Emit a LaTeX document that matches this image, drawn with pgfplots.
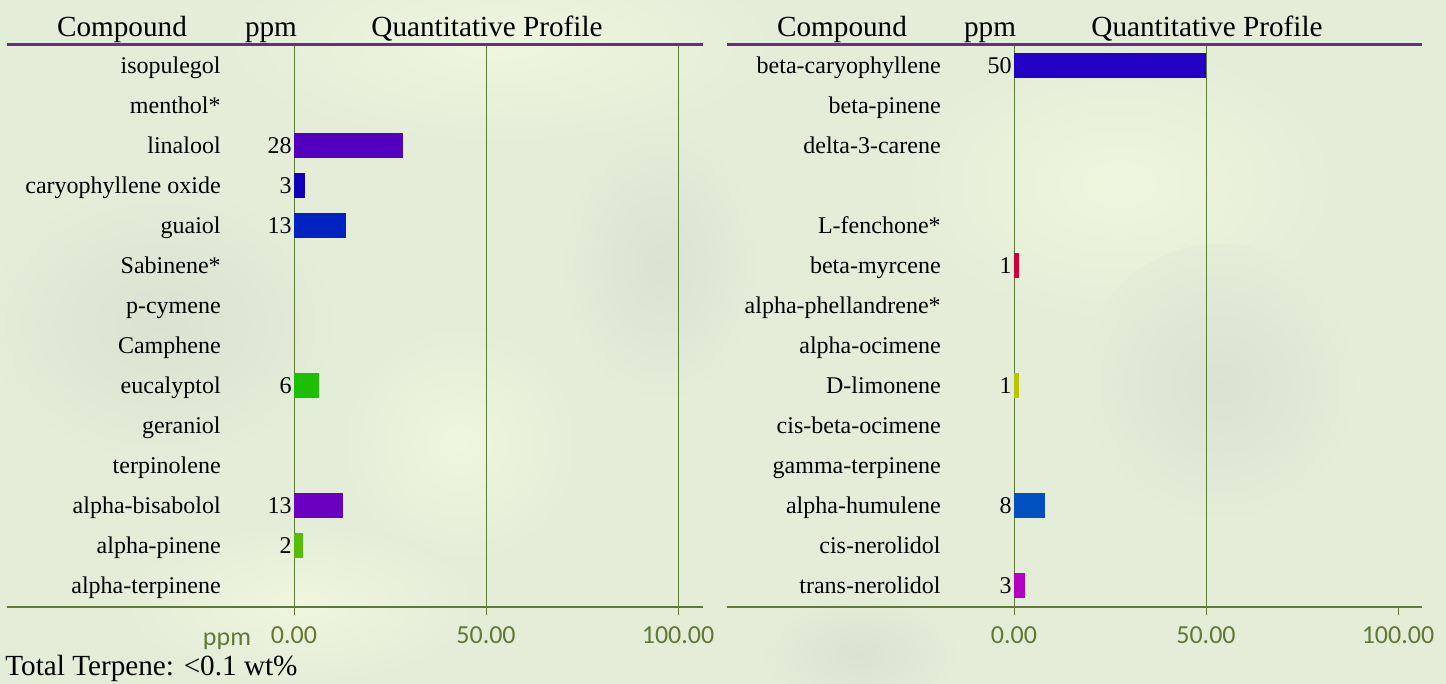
\documentclass[border=0pt]{standalone}
\usepackage{fontspec}
\setmainfont{Liberation Serif}
\newfontfamily\tickfont{Carlito}
\usepackage{pgfplots}
\usepackage{pgfplotstable}
\pgfplotsset{compat=1.18}

\definecolor{bg}{HTML}{E4EDD8}
\definecolor{bglight}{HTML}{EEF6DE}
\definecolor{bggray}{HTML}{DAE2D1}
\definecolor{hdrline}{HTML}{6B2D7F}
\definecolor{olive}{HTML}{5E7A36}
\definecolor{cLin}{HTML}{5300BE}
\definecolor{cCO}{HTML}{1200B8}
\definecolor{cGua}{HTML}{0022C0}
\definecolor{cEuc}{HTML}{1CC000}
\definecolor{cBis}{HTML}{6A00C0}
\definecolor{cPin}{HTML}{55BE00}
\definecolor{cBC}{HTML}{2200C4}
\definecolor{cMyr}{HTML}{D0003C}
\definecolor{cLim}{HTML}{BCC400}
\definecolor{cHum}{HTML}{0050C0}
\definecolor{cNer}{HTML}{B000C0}

\newcommand\rowfont{\fontsize{12}{14}\selectfont}
\newcommand\hdrfont{\fontsize{14.6}{16}\selectfont}
\newcommand\tkfont{\tickfont\fontsize{13}{14}\selectfont}

\pgfplotstableread[col sep=comma]{
row,name
0,isopulegol
1,menthol*
2,linalool
3,caryophyllene oxide
4,guaiol
5,Sabinene*
6,p-cymene
7,Camphene
8,eucalyptol
9,geraniol
10,terpinolene
11,alpha-bisabolol
12,alpha-pinene
13,alpha-terpinene
}\leftnames

\pgfplotstableread[col sep=comma]{
row,val,lab
2,28.4,28
3,2.9,3
4,13.6,13
8,6.5,6
11,12.8,13
12,2.4,2
}\leftvals

\pgfplotstableread[col sep=comma]{
row,name
0,beta-caryophyllene
1,beta-pinene
2,delta-3-carene
4,L-fenchone*
5,beta-myrcene
6,alpha-phellandrene*
7,alpha-ocimene
8,D-limonene
9,cis-beta-ocimene
10,gamma-terpinene
11,alpha-humulene
12,cis-nerolidol
13,trans-nerolidol
}\rightnames

\pgfplotstableread[col sep=comma]{
row,val,lab
0,50.0,50
5,1.2,1
8,1.2,1
11,8.2,8
13,2.8,3
}\rightvals

\pgfplotsset{
  panel/.style={
    anchor=south west, scale only axis,
    height=281pt,
    xmin=-74.74, ymin=-13.525, ymax=0.525,
    axis x line*=bottom, axis y line=none,
    x axis line style={draw=olive, line width=1pt, -},
    ytick=\empty,
    tick align=outside, major tick length=4pt,
    tick style={draw=olive, line width=0.5pt},
    xmajorgrids, grid style={draw=olive, line width=0.5pt},
    xticklabel style={font=\tkfont, text=olive, yshift=-2.5pt},
    clip=false,
  },
  bars/.style={xbar, bar width=12.5pt, bar shift=0pt, draw=none, fill=#1},
  names/.style={draw=none, mark=none, nodes near coords, point meta=explicit symbolic,
    nodes near coords align={left},
    every node near coord/.append style={font=\rowfont, text=black, inner sep=0pt, anchor=base east, yshift=-3.8pt}},
}

\begin{document}
\begin{tikzpicture}
% background
\fill[bg] (0,0) rectangle (723pt,342pt);
\begin{scope}
\clip (0,0) rectangle (723pt,342pt);
\shade[inner color=bglight, outer color=bg] (250pt,320pt) ellipse (140pt and 50pt);
\shade[inner color=bglight, outer color=bg] (560pt,250pt) ellipse (110pt and 70pt);
\shade[inner color=bglight, outer color=bg] (230pt,120pt) ellipse (60pt and 60pt);
\shade[inner color=bggray, outer color=bg] (80pt,180pt) ellipse (90pt and 70pt);
\shade[inner color=bggray, outer color=bg] (330pt,210pt) ellipse (50pt and 70pt);
\shade[inner color=bggray, outer color=bg] (610pt,150pt) ellipse (70pt and 70pt);
\shade[inner color=bggray, outer color=bg] (430pt,15pt) ellipse (50pt and 30pt);
\shade[inner color=bglight, outer color=bg] (150pt,40pt) ellipse (90pt and 40pt);
\end{scope}

% headers
\node[anchor=base, font=\hdrfont] at (61pt,323.5pt) {Compound};
\node[anchor=base, font=\hdrfont] at (135.5pt,323.5pt) {ppm};
\node[anchor=base, font=\hdrfont] at (243.5pt,323.5pt) {Quantitative Profile};
\node[anchor=base, font=\hdrfont] at (421pt,323.5pt) {Compound};
\node[anchor=base, font=\hdrfont] at (495pt,323.5pt) {ppm};
\node[anchor=base, font=\hdrfont] at (603.5pt,323.5pt) {Quantitative Profile};

% left panel
\begin{axis}[panel, at={(3.5pt,38.5pt)}, width=348pt, xmax=106.5,
  xtick={0,50,100}, xticklabels={0.00,50.00,100.00}]
\addplot[bars=cLin] coordinates {(28.4,-2)};
\addplot[bars=cCO]  coordinates {(2.9,-3)};
\addplot[bars=cGua] coordinates {(13.6,-4)};
\addplot[bars=cEuc] coordinates {(6.5,-8)};
\addplot[bars=cBis] coordinates {(12.8,-11)};
\addplot[bars=cPin] coordinates {(2.4,-12)};
\addplot[names] table[x expr=-19, y expr=-\thisrow{row}, meta=name] {\leftnames};
\addplot[names] table[x expr=-0.5, y expr=-\thisrow{row}, meta=lab] {\leftvals};
\draw[hdrline, line width=1.5pt] (rel axis cs:0,1) -- (rel axis cs:1,1);
\end{axis}

% right panel
\begin{axis}[panel, at={(363.5pt,38.5pt)}, width=347.5pt, xmax=106.25,
  xtick={0,50}, xticklabels={0.00,50.00},
  extra x ticks={100}, extra x tick labels={100.00},
  extra x tick style={grid=none}]
\addplot[bars=cBC]  coordinates {(50,0)};
\addplot[bars=cMyr] coordinates {(1.2,-5)};
\addplot[bars=cLim] coordinates {(1.2,-8)};
\addplot[bars=cHum] coordinates {(8.2,-11)};
\addplot[bars=cNer] coordinates {(2.8,-13)};
\addplot[names] table[x expr=-19, y expr=-\thisrow{row}, meta=name] {\rightnames};
\addplot[names] table[x expr=-0.5, y expr=-\thisrow{row}, meta=lab] {\rightvals};
\draw[hdrline, line width=1.5pt] (rel axis cs:0,1) -- (rel axis cs:1,1);
\end{axis}

% footer texts
\node[anchor=base, font=\tkfont, text=olive] at (113.5pt,19pt) {ppm};
\node[anchor=base west, font=\hdrfont, inner sep=0pt] at (2.5pt,4pt) {Total Terpene: <0.1 wt\%};
\end{tikzpicture}
\end{document}
